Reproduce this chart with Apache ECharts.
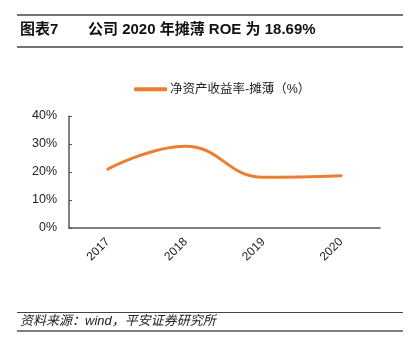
<!DOCTYPE html>
<html><head><meta charset="utf-8">
<script src="https://cdn.jsdelivr.net/npm/echarts@6/dist/echarts.min.js"></script>
<style>html,body{margin:0;padding:0;background:#fff}#c{width:409px;height:359px}</style>
</head><body><div id="c"></div>
<script>
const categories = ['2017', '2018', '2019', '2020'];
const roeValues = [21.0, 29.2, 18.1, 18.69];
const yTicks = [0, 10, 20, 30, 40];
const seriesName = '净资产收益率-摊薄（%）';
const FONT = '"Liberation Sans", "Noto Sans CJK SC", sans-serif';
const chart = echarts.init(document.getElementById('c'), null, {renderer: 'canvas'});
chart.setOption({
  animation: false,
  backgroundColor: '#fff',
  textStyle: {fontFamily: FONT},
  title: [
    {text: '图表7', left: 15, top: 17, textStyle: {fontSize: 15, fontWeight: 'bold', color: '#111', fontFamily: FONT}},
    {text: '公司 2020 年摊薄 ROE 为 18.69%', left: 83, top: 17, textStyle: {fontSize: 15, fontWeight: 'bold', color: '#111', fontFamily: FONT}},
    {text: '资料来源：wind，平安证券研究所', left: 15, top: 310, textStyle: {fontSize: 13, fontWeight: 'normal', fontStyle: 'italic', color: '#222', fontFamily: FONT}}
  ],
  graphic: [
    {type: 'line', shape: {x1: 17, y1: 15, x2: 403, y2: 15}, style: {stroke: '#444', lineWidth: 1.5}},
    {type: 'line', shape: {x1: 17, y1: 47, x2: 403, y2: 47}, style: {stroke: '#444', lineWidth: 1.5}},
    {type: 'line', shape: {x1: 17, y1: 312.5, x2: 403, y2: 312.5}, style: {stroke: '#444', lineWidth: 1}},
    {type: 'line', shape: {x1: 17, y1: 331, x2: 403, y2: 331}, style: {stroke: '#555', lineWidth: 1.5}}
  ],
  legend: {
    top: 78, left: 129,
    itemWidth: 33, itemHeight: 4, itemGap: 4,
    icon: 'roundRect',
    textStyle: {fontSize: 12.5, color: '#222', fontFamily: FONT, padding: [0,0,0,-2]},
    data: [seriesName]
  },
  grid: {left: 69, right: 29, top: 116, bottom: 131, containLabel: false},
  xAxis: {
    type: 'category', data: categories, boundaryGap: true,
    axisLine: {lineStyle: {color: '#555', width: 1.5}},
    axisTick: {inside: true, length: 3, lineStyle: {color: '#555'}},
    axisLabel: {rotate: 45, fontSize: 12, color: '#222', margin: 12, fontFamily: FONT}
  },
  yAxis: {
    type: 'value', min: yTicks[0], max: yTicks[yTicks.length-1], interval: 10,
    splitLine: {show: false},
    axisLine: {show: true, lineStyle: {color: '#555', width: 1.5}},
    axisTick: {show: true, inside: true, length: 3, lineStyle: {color: '#555'}},
    axisLabel: {formatter: '{value}%', fontSize: 12.5, color: '#222', margin: 12, fontFamily: FONT}
  },
  series: [{
    name: seriesName, type: 'line', data: roeValues, smooth: 0.45,
    showSymbol: false, symbol: 'none',
    lineStyle: {color: '#ED7D31', width: 3, cap: 'round'},
    itemStyle: {color: '#ED7D31'}
  }]
});
</script></body></html>
